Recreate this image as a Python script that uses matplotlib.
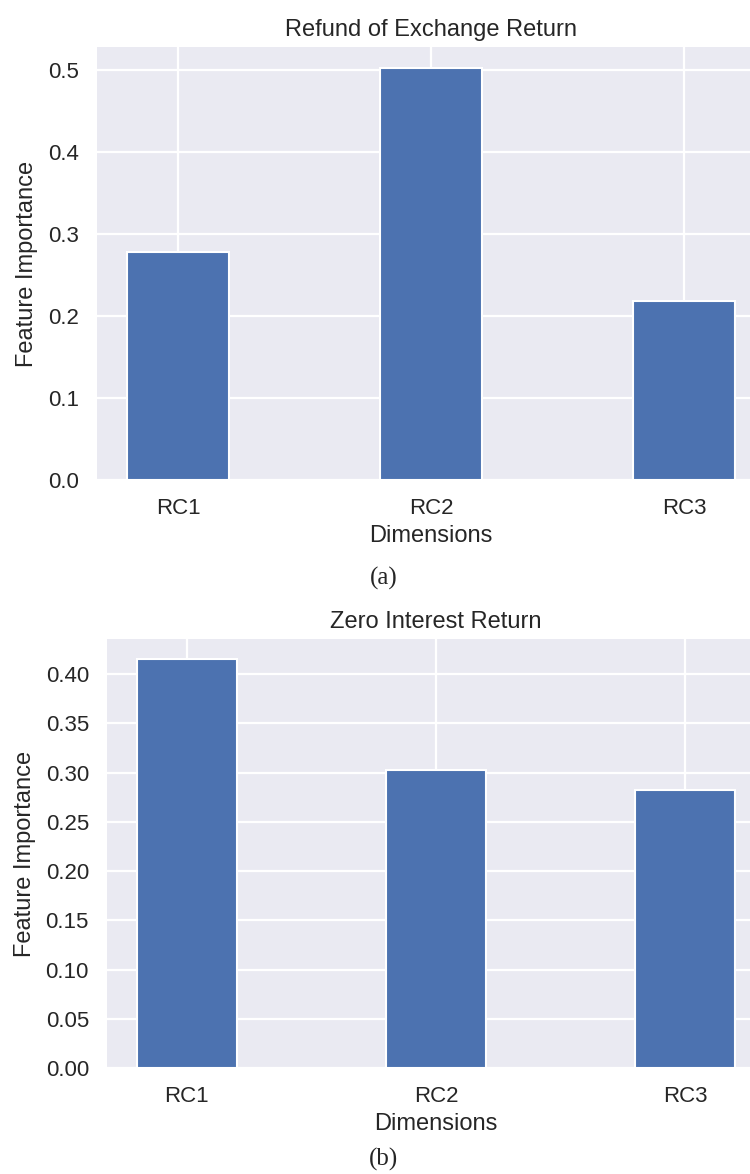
import matplotlib
matplotlib.use("Agg")
import matplotlib.pyplot as plt
import seaborn as sns

dimensions = ["RC1", "RC2", "RC3"]
refund_importance = [0.278, 0.503, 0.218]
zero_interest_importance = [0.415, 0.303, 0.282]

sns.set_theme(style="darkgrid", rc={"grid.linewidth": 1.6})
plt.rcParams["font.family"] = ["Liberation Sans", "DejaVu Sans"]

fig = plt.figure(figsize=(7.5, 11.74), dpi=100)
H = 1174.0
W = 750.0

# axes boxes in pixels: left, right, top, bottom (right side runs past the page)
ax1 = fig.add_axes([97 / W, 1 - 480 / H, (765 - 97) / W, (480 - 47) / H])
ax2 = fig.add_axes([107 / W, 1 - 1068 / H, (765 - 107) / W, (1068 - 639) / H])

blue = "#4c72b0"


def draw_panel(ax, values, title):
    ax.bar(dimensions, values, width=0.4, color=blue, edgecolor="white", linewidth=1.5)
    ax.set_title(title, fontsize=17, pad=8)
    ax.set_xlabel("Dimensions", fontsize=17, labelpad=4)
    ax.set_ylabel("Feature Importance", fontsize=17, labelpad=7)
    ax.tick_params(axis="both", labelsize=16, pad=7)
    for spine in ax.spines.values():
        spine.set_visible(False)


draw_panel(ax1, refund_importance, "Refund of Exchange Return")
draw_panel(ax2, zero_interest_importance, "Zero Interest Return")
ax2.yaxis.set_major_formatter(matplotlib.ticker.FormatStrFormatter("%.2f"))

fig.text(384 / W, 1 - 578 / H, "(a)", ha="center", va="center",
         fontsize=18, family="Liberation Serif")
fig.text(384 / W, 1 - 1159 / H, "(b)", ha="center", va="center",
         fontsize=18, family="Liberation Serif")

fig.savefig("out.png", dpi=100)
